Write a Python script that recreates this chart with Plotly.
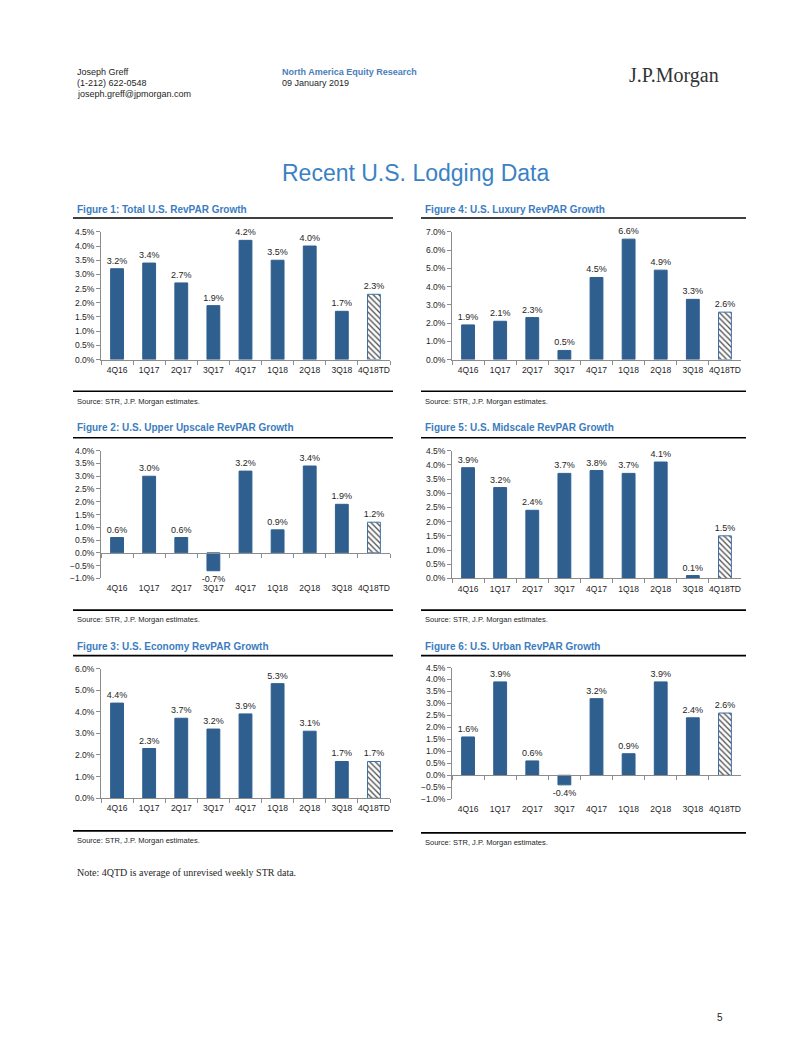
import plotly.graph_objects as go

# The page body keeps its default 8px margin, so the figure is sized to fit the
# 802x1037 window inside that margin; page coordinates are shifted by PAGE_PAD.
PAGE_W, PAGE_H = 802, 1037
PAGE_PAD = 8
W, H = PAGE_W - 2 * PAGE_PAD, PAGE_H - 2 * PAGE_PAD

categories = ["4Q16", "1Q17", "2Q17", "3Q17", "4Q17", "1Q18", "2Q18", "3Q18", "4Q18TD"]

total_values = [3.2, 3.4, 2.7, 1.9, 4.2, 3.5, 4.0, 1.7, 2.3]
luxury_values = [1.9, 2.1, 2.3, 0.5, 4.5, 6.6, 4.9, 3.3, 2.6]
upper_upscale_values = [0.6, 3.0, 0.6, -0.7, 3.2, 0.9, 3.4, 1.9, 1.2]
midscale_values = [3.9, 3.2, 2.4, 3.7, 3.8, 3.7, 4.1, 0.1, 1.5]
economy_values = [4.4, 2.3, 3.7, 3.2, 3.9, 5.3, 3.1, 1.7, 1.7]
urban_values = [1.6, 3.9, 0.6, -0.4, 3.2, 0.9, 3.9, 2.4, 2.6]

figure_titles = [
    "Figure 1: Total U.S. RevPAR Growth",
    "Figure 4: U.S. Luxury RevPAR Growth",
    "Figure 2: U.S. Upper Upscale RevPAR Growth",
    "Figure 5: U.S. Midscale RevPAR Growth",
    "Figure 3: U.S. Economy RevPAR Growth",
    "Figure 6: U.S. Urban RevPAR Growth",
]
series = [total_values, luxury_values, upper_upscale_values,
          midscale_values, economy_values, urban_values]
y_ranges = [(0, 4.5), (0, 7.0), (-1.0, 4.0), (0, 4.5), (0, 6.0), (-1.0, 4.5)]
y_dticks = [0.5, 1.0, 0.5, 0.5, 1.0, 0.5]

source_text = "Source: STR, J.P. Morgan estimates."

BLUE = "#2F5F8F"
HATCH_BLUE = "#3D6FA3"
TITLE_BLUE = "#3C7CC0"
AXIS_GREY = "#8C8C8C"
TXT = "#1E1E1E"
SANS = "Liberation Sans, Arial"
SERIF = "Liberation Serif, Times New Roman"

# layout geometry (page pixels)
cols = [
    dict(px0=101, px1=390, title_x=75, rule0=73, rule1=393),
    dict(px0=452, px1=741, title_x=423, rule0=421, rule1=746),
]
rows = [
    [dict(ytop=229, ybot=358, title_y=206, rule_top=215, rule_bot=390, source_y=400)] * 2,
    [dict(ytop=450, ybot=579, title_y=427, rule_top=437, rule_bot=611, source_y=620)] * 2,
    [dict(ytop=670, ybot=801, title_y=648, rule_top=657, rule_bot=834, source_y=844),
     dict(ytop=669, ybot=802, title_y=648, rule_top=657, rule_bot=836, source_y=846)],
]


def fx(px):
    return (px - PAGE_PAD) / W


def fy(py):
    return 1 - (py - PAGE_PAD) / H


fig = go.Figure()
layout = {}
shapes = []
annotations = []
extra_axis = 7

for i in range(6):
    r, c = divmod(i, 2)
    col = cols[c]
    row = rows[r][c]
    n = i + 1
    xname = "x" if n == 1 else f"x{n}"
    yname = "y" if n == 1 else f"y{n}"
    vals = series[i]
    ymin, ymax = y_ranges[i]
    neg = ymin < 0
    npts = len(vals)

    fig.add_trace(go.Bar(
        x=categories, y=vals, xaxis=xname, yaxis=yname,
        marker=dict(
            color=[BLUE] * (npts - 1) + ["white"],
            line=dict(color=[BLUE] * (npts - 1) + [HATCH_BLUE], width=1),
            pattern=dict(shape=[""] * (npts - 1) + ["\\"],
                         fgcolor=[HATCH_BLUE] * npts, size=4, solidity=0.3,
                         fillmode="overlay", fgopacity=1),
        ),
        texttemplate="%{y:.1f}%", textposition="outside",
        textfont=dict(family=SANS, size=9, color=TXT),
        cliponaxis=False, constraintext="none",
        showlegend=False, hoverinfo="skip",
    ))

    dom_y = [fy(row["ybot"]), fy(row["ytop"])]
    layout[f"xaxis{n}"] = dict(
        domain=[fx(col["px0"]), fx(col["px1"])], anchor=yname,
        type="category", categoryorder="array", categoryarray=categories,
        range=[-0.5, npts - 0.5], tickangle=0,
        showline=not neg, linecolor=AXIS_GREY, linewidth=1,
        ticks="outside", tickson="boundaries", ticklen=4,
        tickcolor="rgba(0,0,0,0)" if neg else AXIS_GREY,
        ticklabelstandoff=2 if not neg else 3,
        showgrid=False, zeroline=False,
        tickfont=dict(family=SANS, size=8.5, color=TXT),
    )
    layout[f"yaxis{n}"] = dict(
        domain=dom_y, anchor=xname, range=[ymin, ymax],
        tick0=0, dtick=y_dticks[i], ticksuffix="%", tickformat=".1f",
        showline=True, linecolor=AXIS_GREY, linewidth=1,
        ticks="outside", ticklen=4, tickcolor=AXIS_GREY,
        showgrid=False, zeroline=False,
        tickfont=dict(family=SANS, size=8.5, color=TXT),
    )

    if neg:
        m = extra_axis
        extra_axis += 1
        pos = dom_y[0] + (0 - ymin) / (ymax - ymin) * (dom_y[1] - dom_y[0])
        layout[f"xaxis{m}"] = dict(
            overlaying=xname, anchor="free", position=pos,
            type="category", categoryorder="array", categoryarray=categories,
            range=[-0.5, npts - 0.5],
            showline=True, linecolor=AXIS_GREY, linewidth=1,
            ticks="outside", tickson="boundaries", ticklen=4, tickcolor=AXIS_GREY,
            showticklabels=False, showgrid=False, zeroline=False,
        )
        fig.add_trace(go.Scatter(
            x=categories, y=[None] * npts, xaxis=f"x{m}", yaxis=yname,
            mode="markers", showlegend=False, hoverinfo="skip",
        ))

    # title, rules, source
    annotations.append(dict(
        text=f"<b>{figure_titles[i]}</b>", xref="paper", yref="paper",
        x=fx(col["title_x"]), y=fy(row["title_y"]), xanchor="left", yanchor="middle",
        showarrow=False, font=dict(family=SANS, size=10, color=TITLE_BLUE),
    ))
    for ry in (row["rule_top"], row["rule_bot"]):
        shapes.append(dict(
            type="line", xref="paper", yref="paper",
            x0=fx(col["rule0"]), x1=fx(col["rule1"]), y0=fy(ry), y1=fy(ry),
            line=dict(color="black", width=1.6),
        ))
    annotations.append(dict(
        text=source_text, xref="paper", yref="paper",
        x=fx(col["title_x"]), y=fy(row["source_y"]), xanchor="left", yanchor="middle",
        showarrow=False, font=dict(family=SANS, size=7.5, color=TXT),
    ))

# page header and footer
header = [
    ("Joseph Greff", 75, 68, 9, TXT, False),
    ("(1-212) 622-0548", 75, 79, 9, TXT, False),
    ("joseph.greff@jpmorgan.com", 75, 90, 9, TXT, False),
    ("North America Equity Research", 280, 68, 9, "#4A7EBB", True),
    ("09 January 2019", 280, 79, 9, TXT, False),
]
for text, x, y, size, color, bold in header:
    annotations.append(dict(
        text=f"<b>{text}</b>" if bold else text, xref="paper", yref="paper",
        x=fx(x), y=fy(y), xanchor="left", yanchor="middle", showarrow=False,
        font=dict(family=SANS, size=size, color=color),
    ))

annotations.append(dict(
    text="J.P.Morgan", xref="paper", yref="paper", x=fx(721), y=fy(71),
    xanchor="right", yanchor="middle", showarrow=False,
    font=dict(family=SERIF, size=20, color="#333333"),
))
annotations.append(dict(
    text="Recent U.S. Lodging Data", xref="paper", yref="paper", x=fx(415), y=fy(170),
    xanchor="center", yanchor="middle", showarrow=False,
    font=dict(family=SANS, size=23, color="#3A82C4"),
))
annotations.append(dict(
    text="Note: 4QTD is average of unrevised weekly STR data.", xref="paper", yref="paper",
    x=fx(75), y=fy(876), xanchor="left", yanchor="middle", showarrow=False,
    font=dict(family=SERIF, size=10, color=TXT),
))
annotations.append(dict(
    text="5", xref="paper", yref="paper", x=fx(720), y=fy(1022),
    xanchor="center", yanchor="middle", showarrow=False,
    font=dict(family=SANS, size=10, color=TXT),
))

fig.update_layout(
    width=W, height=H, margin=dict(l=0, r=0, t=0, b=0),
    paper_bgcolor="white", plot_bgcolor="white",
    bargap=0.6, shapes=shapes, annotations=annotations,
    font=dict(family=SANS, color=TXT),
    **layout,
)

fig.write_html("out.html")
